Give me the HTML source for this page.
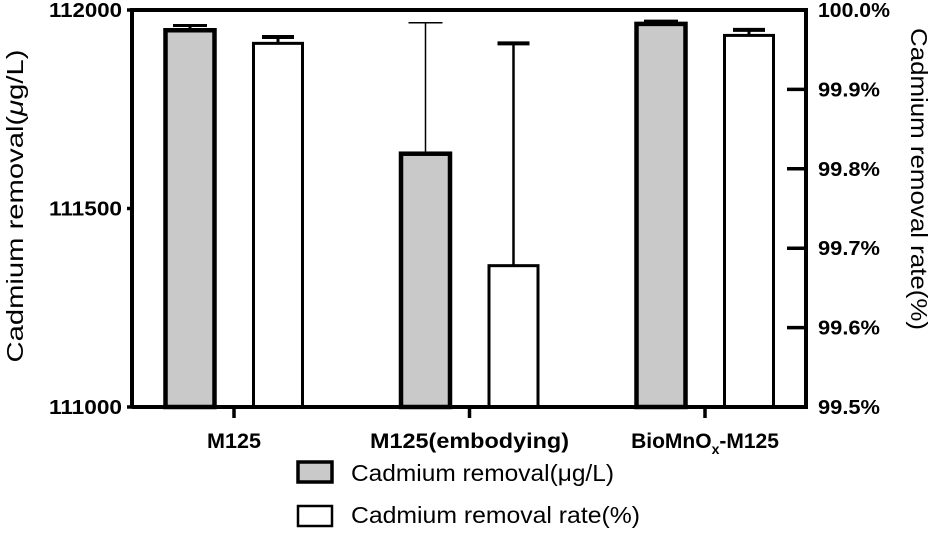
<!DOCTYPE html>
<html><head><meta charset="utf-8"><style>
html,body{margin:0;padding:0;background:#fff;}
svg{display:block;font-family:"Liberation Sans",Arial,sans-serif;}
</style></head><body>
<svg id="chart" width="945" height="533" viewBox="0 0 945 533">
<g id="plot"></g>
<text x="23" y="206" transform="rotate(-90 23 206)" text-anchor="middle" font-size="23" textLength="313" lengthAdjust="spacingAndGlyphs">Cadmium removal(<tspan font-style="italic">μ</tspan>g/L)</text>
<text x="911" y="179" transform="rotate(90 911 179)" text-anchor="middle" font-size="23" textLength="302" lengthAdjust="spacingAndGlyphs">Cadmium removal rate(%)</text>
<g>
<g>
<rect x="298" y="462" width="34" height="20" fill="#c9c9c9" stroke="#000" stroke-width="3.5"/>
<text x="351" y="481" font-size="23" textLength="263" lengthAdjust="spacingAndGlyphs">Cadmium removal(μg/L)</text>
</g>
<g>
<rect x="298" y="506" width="34" height="20" fill="#fff" stroke="#000" stroke-width="2.5"/>
<text x="351" y="523" font-size="23" textLength="289" lengthAdjust="spacingAndGlyphs">Cadmium removal rate(%)</text>
</g>
</g>
</svg>
<script>
const categories=["M125","M125(embodying)","BioMnOx-M125"];
const removalValues=[111949,111638,111965];
const removalErrors=[12,330,7];
const rateValues=[99.958,99.678,99.968];
const rateErrors=[0.008,0.28,0.007];
const leftTicks=[111000,111500,112000];
const rightTicks=[99.5,99.6,99.7,99.8,99.9,100.0];

const NS="http://www.w3.org/2000/svg";
const g=document.getElementById('plot');
const X0=132,X1=806,Y0=407,Y1=10;
const yL=v=>Y0-(v-111000)/1000*(Y0-Y1);
const yR=v=>Y0-(v-99.5)/0.5*(Y0-Y1);
const xC=i=>234+i*235.5;
function mk(t,a,p){const e=document.createElementNS(NS,t);for(const k in a)e.setAttribute(k,a[k]);(p||g).appendChild(e);return e;}
const labelLen=[54,199,135];

categories.forEach((c,i)=>{
  const thin=i===1;
  const gx=xC(i)-44, bw=53;
  const gt=yL(removalValues[i]);
  const eg=mk('g',{});
  
  
  const et=yL(removalValues[i]+removalErrors[i]);
  const eb=yL(removalValues[i]-removalErrors[i]);
  const sw=thin?1.5:3;
  mk('line',{x1:gx,x2:gx,y1:et,y2:thin?eb:gt,stroke:'#000','stroke-width':sw},eg);
  mk('line',{x1:gx-17,x2:gx+17,y1:et,y2:et,stroke:'#000','stroke-width':sw},eg);
  if(thin)mk('line',{x1:gx-17,x2:gx+17,y1:eb,y2:eb,stroke:'#000','stroke-width':sw},eg);
  const b=mk('rect',{x:gx-bw/2+2,y:gt,width:bw-4,height:Y0-gt,fill:'#c9c9c9',stroke:'#000','stroke-width':4.5});
  
  
  const wx=xC(i)+44;
  const wt=yR(rateValues[i]);
  const ew=mk('g',{});
  
  
  const wet=yR(rateValues[i]+rateErrors[i]);
  mk('line',{x1:wx,x2:wx,y1:wet,y2:wt,stroke:'#000','stroke-width':thin?2.5:3},ew);
  mk('line',{x1:wx-16,x2:wx+16,y1:wet,y2:wet,stroke:'#000','stroke-width':4},ew);
  const w=mk('rect',{x:wx-bw/2+2,y:wt,width:bw-4,height:Y0-wt,fill:'#fff',stroke:'#000','stroke-width':3});
  
  
  mk('line',{x1:xC(i),x2:xC(i),y1:Y0,y2:418,stroke:'#000','stroke-width':3.5});
  const t=mk('text',{x:xC(i),y:448,'text-anchor':'middle','font-size':'21','font-weight':'bold',textLength:labelLen[i],lengthAdjust:'spacingAndGlyphs'});
  
  
  if(c==="BioMnOx-M125"){t.removeAttribute('textLength');t.innerHTML='BioMnO<tspan font-size="14" dy="6">x</tspan><tspan dy="-6">-M125</tspan>';}
  else t.textContent=c;
});
const fr=mk('path',{d:`M${X0},${Y0}V${Y1}H${X1}V${Y0}H${X0}`,fill:'none',stroke:'#000','stroke-width':4});


leftTicks.forEach(v=>{
  mk('line',{x1:X0-5,x2:X0,y1:yL(v),y2:yL(v),stroke:'#000','stroke-width':3.5});
  const t=mk('text',{x:X0-10,y:yL(v)+7,'text-anchor':'end','font-size':'20','font-weight':'bold',textLength:73,lengthAdjust:'spacingAndGlyphs'});
  
  
  t.textContent=v;
});
rightTicks.forEach(v=>{
  mk('line',{x1:X1-19,x2:X1,y1:yR(v),y2:yR(v),stroke:'#000','stroke-width':3.5});
  const t=mk('text',{x:X1+12,y:yR(v)+7,'font-size':'20','font-weight':'bold',textLength:v>=100?72:62,lengthAdjust:'spacingAndGlyphs'});
  
  
  t.textContent=v.toFixed(1)+'%';
});
</script>
</body></html>
